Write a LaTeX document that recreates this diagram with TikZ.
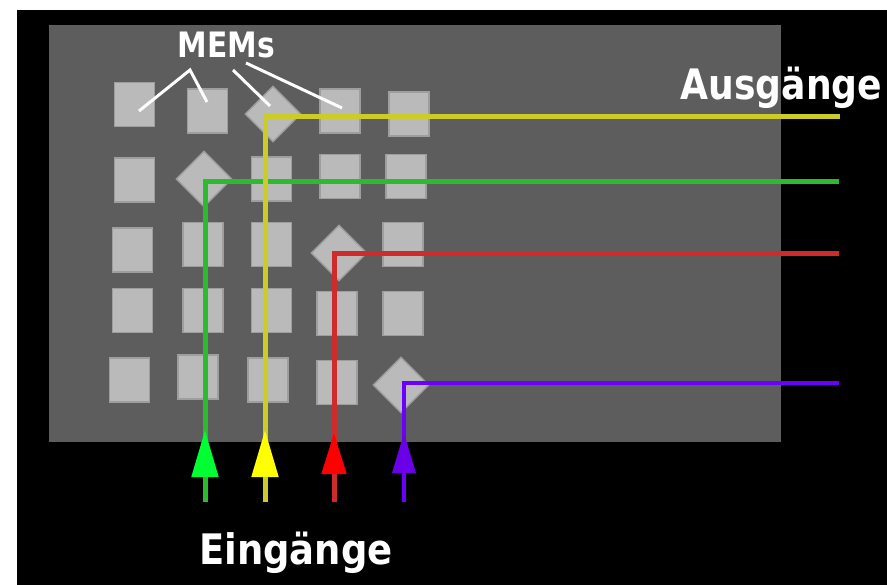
\documentclass[tikz,border=0pt]{standalone}
\usepackage{fontspec}
\setmainfont{DejaVu Sans}
\usetikzlibrary{arrows.meta}

\definecolor{panelgray}{RGB}{93,93,93}
\definecolor{memfill}{RGB}{186,186,186}
\definecolor{memedge}{RGB}{158,158,158}
\definecolor{lineyellow}{RGB}{204,204,40}
\definecolor{linegreen}{RGB}{46,186,46}
\definecolor{linered}{RGB}{206,44,44}
\definecolor{lineviolet}{RGB}{106,0,255}
\definecolor{tipyellow}{RGB}{255,255,0}
\definecolor{tipgreen}{RGB}{0,255,50}
\definecolor{tipred}{RGB}{255,0,0}
\definecolor{tipviolet}{RGB}{106,0,232}

\tikzset{
  memsq/.style={draw=memedge, line width=1.5pt, fill=memfill, inner sep=0pt,
                minimum width=40pt, minimum height=44pt},
  memtilt/.style={draw=memedge, line width=1.5pt, fill=memfill, inner sep=0pt,
                  minimum size=39pt, rotate=45},
  pointer/.style={draw=white, line width=3pt},
  signal/.style={line width=5pt},
  inarrow/.style={line width=5pt, -{Triangle[length=47pt,width=26pt,fill=#1,color=#1]}},
  biglabel/.style={text=white, inner sep=0pt, anchor=base,
                   font=\fontsize{42}{50}\selectfont\bfseries},
  smalllabel/.style={text=white, inner sep=0pt, anchor=base,
                     font=\fontsize{35}{42}\selectfont\bfseries}
}

\begin{document}
\begin{tikzpicture}[x=1pt, y=-1pt]
  \useasboundingbox (0,0) rectangle (887,585);
  % white margin, black field and the grey chip area
  \fill[white] (0,0) rectangle (887,585);
  \fill[black] (17,10) rectangle (887,585);
  \fill[panelgray] (49,25) rectangle (781,442);

  % micro mirror array
  \node[memsq] (m11) at (134.5,104.5) {};
  \node[memsq] (m12) at (207.5,111) {};
  \node[memtilt] (m13) at (273,114) {};
  \node[memsq] (m14) at (340,111) {};
  \node[memsq] (m15) at (409,114) {};

  \node[memsq] (m21) at (134.5,180) {};
  \node[memtilt] (m22) at (204,179) {};
  \node[memsq] (m23) at (271.5,179) {};
  \node[memsq] (m24) at (340,176.5) {};
  \node[memsq] (m25) at (406,176.5) {};

  \node[memsq] (m31) at (132.5,250) {};
  \node[memsq] (m32) at (203,244.5) {};
  \node[memsq] (m33) at (271.5,244.5) {};
  \node[memtilt] (m34) at (339,253) {};
  \node[memsq] (m35) at (403,244.5) {};

  \node[memsq] (m41) at (132.5,310.5) {};
  \node[memsq] (m42) at (203,310.5) {};
  \node[memsq] (m43) at (271.5,310.5) {};
  \node[memsq] (m44) at (337,313.5) {};
  \node[memsq] (m45) at (403,313.5) {};

  \node[memsq] (m51) at (129.5,380) {};
  \node[memsq] (m52) at (198,377) {};
  \node[memsq] (m53) at (268,380) {};
  \node[memsq] (m54) at (337,382.5) {};
  \node[memtilt] (m55) at (401,385) {};

  % labels
  \node[smalllabel] (mems) at (226.5,58) {\scalebox{0.85}[1]{MEMs}};
  \node[biglabel] (outs) at (781.5,100) {\scalebox{0.86}[1]{Ausgänge}};
  \node[biglabel] (ins) at (296,564) {\scalebox{0.88}[1]{Eingänge}};

  % pointers from the label to some mirrors
  \coordinate (pa) at (190,70);
  \coordinate (pb) at (233,70);
  \coordinate (pc) at (246,63);
  \coordinate (e11) at (139,111);
  \coordinate (e12) at (207,102);
  \coordinate (e13) at (270,106);
  \coordinate (e14) at (342,108);
  \draw[pointer] (e11) -- (pa) -- (e12);
  \draw[pointer] (pb) -- (e13);
  \draw[pointer] (pc) -- (e14);

  % inputs, tips and outputs of the four light paths
  \coordinate (ing) at (205,502);
  \coordinate (iny) at (265,502);
  \coordinate (inr) at (334,502);
  \coordinate (inv) at (404,502);
  \coordinate (tipg) at (205,430);
  \coordinate (tipy) at (265,430);
  \coordinate (tipr) at (334,433);
  \coordinate (tipv) at (404,433);
  \coordinate (outy) at (840,117);
  \coordinate (outg) at (839,182);
  \coordinate (outr) at (839,254);
  \coordinate (outv) at (839,383);

  % light paths, deflected by the tilted mirrors
  \draw[signal, draw=linegreen] (ing) |- (outg);
  \draw[signal, draw=lineyellow] (iny) |- (outy);
  \draw[signal, draw=linered] (inr) |- (outr);
  \draw[signal, draw=lineviolet, line width=3.3pt] (inv) |- (outv);

  % input arrows
  \draw[inarrow=tipgreen, draw=linegreen] (ing) -- (tipg);
  \draw[inarrow=tipyellow, draw=lineyellow] (iny) -- (tipy);
  \draw[line width=5pt, draw=linered,
        -{Triangle[length=41pt,width=24pt,fill=tipred,color=tipred]}] (inr) -- (tipr);
  \draw[line width=3.3pt, draw=lineviolet,
        -{Triangle[length=40pt,width=23pt,fill=tipviolet,color=tipviolet]}] (inv) -- (tipv);
\end{tikzpicture}
\end{document}
